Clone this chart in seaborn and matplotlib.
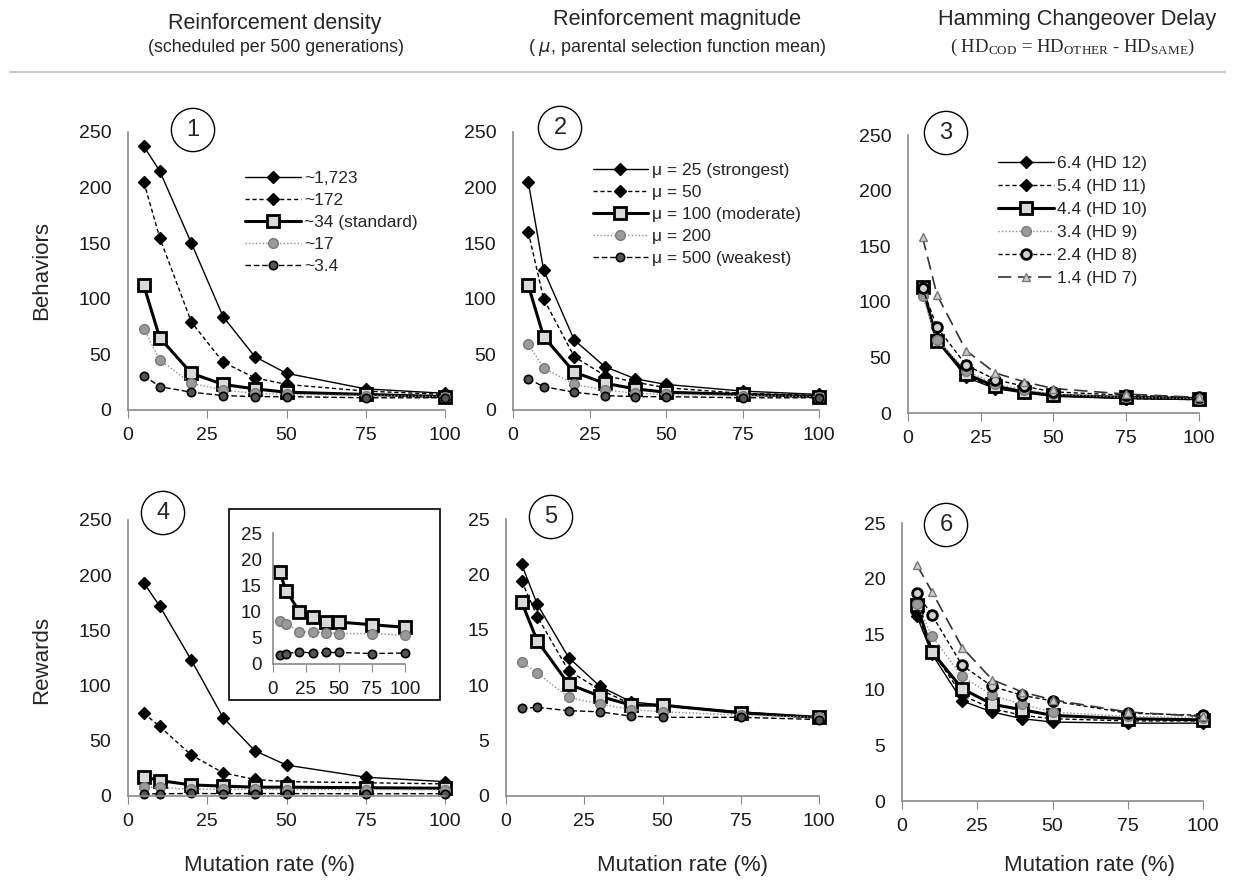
import matplotlib
matplotlib.use("Agg")
import matplotlib.pyplot as plt
import seaborn as sns
import pandas as pd
from matplotlib.patches import Rectangle
from matplotlib.lines import Line2D

# mutation rates (%)
mutation = [5, 10, 20, 30, 40, 50, 75, 100]

# panel 1: behaviors vs reinforcement density
dens_labels = ["~1,723", "~172", "~34 (standard)", "~17", "~3.4"]
dens_beh = [
    [237, 215, 150, 84, 48, 33, 19, 15],
    [205, 155, 79, 43, 29, 23, 17, 14],
    [112, 65, 33, 23, 19, 16, 14, 12],
    [73, 45, 24, 18, 15, 14, 13, 12],
    [31, 21, 16, 13, 12, 12, 11, 11],
]
# panel 4: rewards vs reinforcement density
dens_rew = [
    [193, 172, 123, 71, 41, 28, 17, 13],
    [75, 63, 37, 21, 15, 13, 12, 11],
    [17.5, 14, 10, 9, 8, 8, 7.5, 7],
    [8.2, 7.7, 6.2, 6.1, 6.0, 5.8, 5.8, 5.5],
    [1.8, 2.0, 2.3, 2.1, 2.2, 2.2, 2.0, 2.1],
]

# panel 2 / 5: reinforcement magnitude
mag_labels = ["\u03bc = 25 (strongest)", "\u03bc = 50", "\u03bc = 100 (moderate)",
              "\u03bc = 200", "\u03bc = 500 (weakest)"]
mag_beh = [
    [205, 126, 63, 39, 28, 23, 17, 14],
    [160, 100, 48, 31, 25, 20, 15, 13],
    [112, 66, 34, 24, 19, 16, 14, 12],
    [59, 38, 23, 18, 15, 14, 13, 12],
    [28, 21, 16, 13, 12, 12, 11, 11],
]
mag_rew = [
    [20.9, 17.3, 12.5, 9.9, 8.5, 8.2, 7.6, 7.1],
    [19.4, 16.2, 11.3, 9.6, 8.3, 8.1, 7.5, 7.1],
    [17.5, 14.0, 10.1, 9.0, 8.2, 8.2, 7.5, 7.1],
    [12.1, 11.1, 8.9, 8.3, 7.8, 7.6, 7.3, 7.1],
    [7.9, 8.0, 7.7, 7.6, 7.2, 7.1, 7.1, 6.9],
]

# panel 3 / 6: hamming changeover delay
hd_labels = ["6.4 (HD 12)", "5.4 (HD 11)", "4.4 (HD 10)", "3.4 (HD 9)",
             "2.4 (HD 8)", "1.4 (HD 7)"]
hd_beh = [
    [112, 65, 32, 22, 18, 15, 13, 12],
    [110, 67, 33, 23, 19, 16, 13, 12],
    [113, 65, 35, 24, 19, 16, 14, 13],
    [105, 66, 38, 26, 21, 17, 14, 13],
    [112, 77, 43, 30, 24, 19, 16, 14],
    [158, 106, 56, 36, 28, 22, 17, 14],
]
hd_rew = [
    [16.6, 13.2, 9.0, 8.0, 7.4, 7.1, 7.0, 7.0],
    [16.9, 13.5, 9.5, 8.3, 7.7, 7.4, 7.2, 7.2],
    [17.6, 13.4, 10.1, 8.7, 8.2, 7.7, 7.4, 7.3],
    [17.7, 14.8, 11.2, 9.5, 8.7, 8.0, 7.6, 7.5],
    [18.7, 16.7, 12.2, 10.3, 9.5, 9.0, 7.9, 7.7],
    [21.2, 18.8, 13.8, 10.9, 9.8, 9.1, 8.0, 7.6],
]

# line / marker styles (shared order across series)
STYLES = [
    dict(color="black", lw=1.0, ls="-", marker="D", ms=6, mfc="black", mec="black", mew=1),
    dict(color="black", lw=1.0, ls=(0, (3, 2)), marker="D", ms=6, mfc="black", mec="black", mew=1),
    dict(color="black", lw=2.2, ls="-", marker="s", ms=8, mfc="#d9d9d9", mec="black", mew=2),
    dict(color="#8c8c8c", lw=1.0, ls=(0, (1, 1.5)), marker="o", ms=7, mfc="#9a9a9a", mec="#7a7a7a", mew=1),
    dict(color="black", lw=1.0, ls=(0, (4, 2)), marker="o", ms=6, mfc="#555555", mec="black", mew=1.2),
]
HD8 = dict(color="black", lw=1.0, ls=(0, (3, 2)), marker="o", ms=7, mfc="#cfcfcf", mec="black", mew=2)
HD7 = dict(color="#333333", lw=1.2, ls=(0, (8, 4)), marker="^", ms=6, mfc="#cccccc", mec="#777777", mew=1)
HD_STYLES = STYLES[:4] + [HD8, HD7]

sns.set_style("white")
plt.rcParams["font.family"] = ["Liberation Sans", "DejaVu Sans"]

W, H = 1233, 892
fig = plt.figure(figsize=(W / 100, H / 100), dpi=100)


def px_axes(left, right, top, bottom):
    return fig.add_axes([left / W, 1 - bottom / H, (right - left) / W, (bottom - top) / H])


def draw(ax, series, labels, styles, ymax, legend_at=None, spacing=0.4, tick_fs=14):
    for vals, lab, st in zip(series, labels, styles):
        df = pd.DataFrame({"mutation": mutation, "value": vals})
        st = dict(st)
        ls = st.pop("ls")
        sns.lineplot(data=df, x="mutation", y="value", ax=ax, label=lab,
                     linestyle=ls, markeredgewidth=st.pop("mew"),
                     linewidth=st.pop("lw"), markersize=st.pop("ms"),
                     clip_on=False, **st)
    ax.set_xlim(0, 100)
    ax.set_ylim(0, ymax)
    ax.set_xticks([0, 25, 50, 75, 100])
    ax.set_yticks([ymax * i / 5 for i in range(6)])
    ax.set_yticklabels([f"{ymax * i / 5:g}" for i in range(6)])
    ax.set_xlabel("")
    ax.set_ylabel("")
    for s in ["top", "right"]:
        ax.spines[s].set_visible(False)
    for s in ["left", "bottom"]:
        ax.spines[s].set_color("#8a8a8a")
        ax.spines[s].set_linewidth(1.2)
    ax.tick_params(axis="x", direction="out", length=6, color="#8a8a8a",
                   labelsize=tick_fs, pad=6, bottom=True, labelcolor="#1a1a1a")
    ax.tick_params(axis="y", direction="out", length=0, labelsize=tick_fs, pad=12,
                   labelcolor="#1a1a1a")
    if legend_at is not None:
        handles = []
        for lab, st in zip(labels, styles):
            handles.append(Line2D([], [], color=st["color"], lw=st["lw"], ls=st["ls"],
                                  marker=st["marker"], ms=st["ms"], mfc=st["mfc"],
                                  mec=st["mec"], mew=st["mew"], label=lab))
        ax.legend(handles=handles, loc="upper left", bbox_to_anchor=legend_at,
                  frameon=False, fontsize=12.5, handlelength=3.2, handletextpad=0.2,
                  labelspacing=spacing, borderaxespad=0, borderpad=0)
    elif ax.get_legend() is not None:
        ax.get_legend().remove()


ax1 = px_axes(128, 445, 132, 410)
draw(ax1, dens_beh, dens_labels, STYLES, 250, legend_at=(0.37, 0.86))
ax2 = px_axes(513, 819, 132, 410)
draw(ax2, mag_beh, mag_labels, STYLES, 250, legend_at=(0.26, 0.89))
ax3 = px_axes(908, 1199, 135, 413)
draw(ax3, hd_beh, hd_labels, HD_STYLES, 250, legend_at=(0.31, 0.925), spacing=0.45)
ax4 = px_axes(128, 445, 520, 796)
draw(ax4, dens_rew, dens_labels, STYLES, 250)
ax5 = px_axes(506, 819, 519, 796)
draw(ax5, mag_rew, mag_labels, STYLES, 25)
ax6 = px_axes(902, 1203, 523, 801)
draw(ax6, hd_rew, hd_labels, HD_STYLES, 25)

# inset in panel 4
fig.patches.append(Rectangle((229 / W, 1 - 700 / H), (440 - 229) / W, (700 - 509) / H,
                             transform=fig.transFigure, fill=True, fc="white",
                             ec="black", lw=1.2, zorder=5))
axi = px_axes(273, 405, 533, 664)
axi.set_zorder(6)
draw(axi, dens_rew[2:], dens_labels[2:], STYLES[2:], 25, tick_fs=13.5)
axi.tick_params(axis="y", pad=8)
axi.patch.set_alpha(0)

# circled panel numbers
for num, (cx, cy) in zip("123456", [(193, 130), (560, 128), (946, 133),
                                    (163, 513), (551, 517), (946, 525)]):
    fig.text(cx / W, 1 - cy / H, num, ha="center", va="center", fontsize=17,
             bbox=dict(boxstyle="circle,pad=0.45", fc="white", ec="black", lw=1))

# column headers
fig.text(275 / W, 1 - 24 / H, "Reinforcement density", ha="center", va="center",
         fontsize=15.5)
fig.text(276 / W, 1 - 48 / H, "(scheduled per 500 generations)", ha="center",
         va="center", fontsize=12.8)
fig.text(677 / W, 1 - 20 / H, "Reinforcement magnitude", ha="center", va="center",
         fontsize=15.7)
fig.text(677 / W, 1 - 48 / H, "( $\\mu$, parental selection function mean)", ha="center",
         va="center", fontsize=13)
fig.text(1077 / W, 1 - 20 / H, "Hamming Changeover Delay", ha="center", va="center",
         fontsize=15.7)
fig.text(1072 / W, 1 - 47 / H,
         "( $\\mathregular{HD_{COD}}$ = $\\mathregular{HD_{OTHER}}$ - $\\mathregular{HD_{SAME}}$)",
         ha="center", va="center", fontsize=13.5, family=["Liberation Serif", "DejaVu Serif"])
fig.add_artist(Line2D([10 / W, 1225 / W], [1 - 72 / H, 1 - 72 / H],
                      transform=fig.transFigure, color="#c8c8c8", lw=1.5))

# row / column axis labels
fig.text(42 / W, 1 - 271 / H, "Behaviors", rotation=90, ha="center", va="center", fontsize=16)
fig.text(42 / W, 1 - 660 / H, "Rewards", rotation=90, ha="center", va="center", fontsize=16)
for cx in [270, 683, 1090]:
    fig.text(cx / W, 1 - 866 / H, "Mutation rate (%)", ha="center", va="center", fontsize=16)

fig.savefig("out.png", dpi=100)
